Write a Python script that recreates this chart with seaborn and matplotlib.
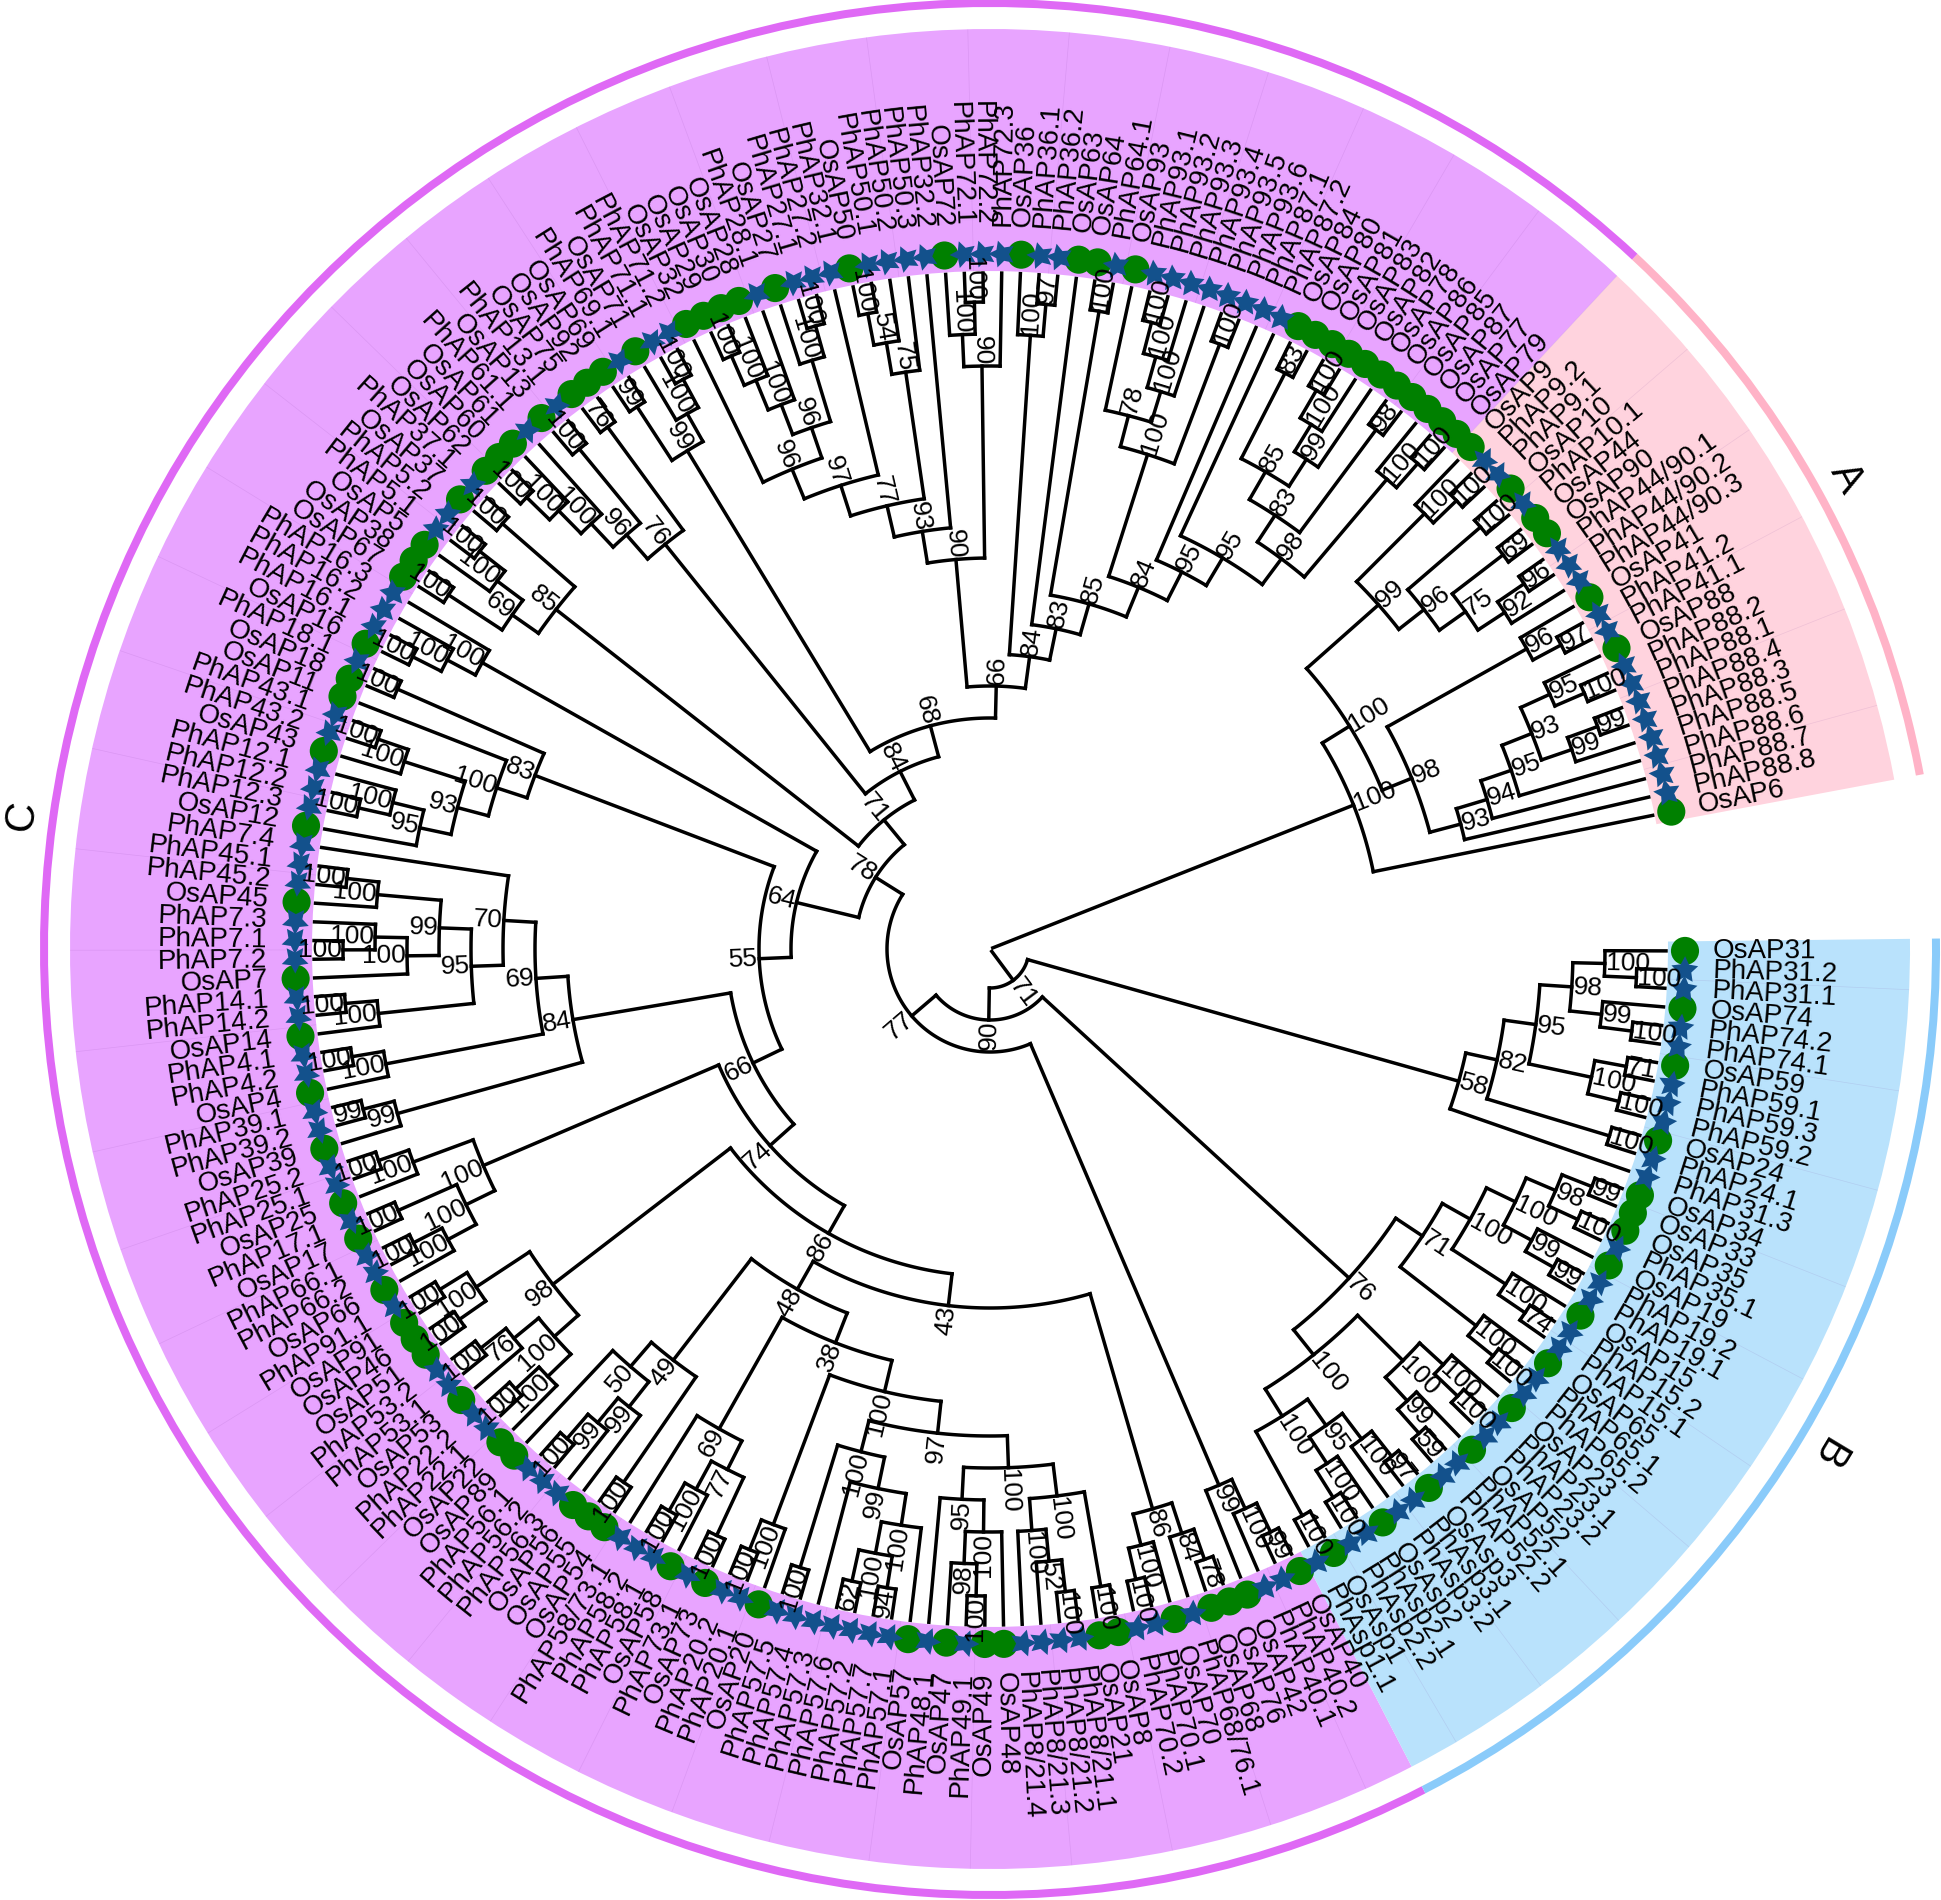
import numpy as np
import pandas as pd
import seaborn as sns
import matplotlib
matplotlib.use("Agg")
import matplotlib.pyplot as plt
from matplotlib.collections import LineCollection
from matplotlib.patches import Wedge

# ------------------------------- data -------------------------------
tips_A = ["OsAP6", "PhAP88.8", "PhAP88.7", "PhAP88.6", "PhAP88.5", "PhAP88.3", "PhAP88.4", "PhAP88.1",
          "PhAP88.2", "OsAP88", "PhAP41.1", "PhAP41.2", "OsAP41", "PhAP44/90.3", "PhAP44/90.2",
          "PhAP44/90.1", "OsAP90", "OsAP44", "PhAP10.1", "OsAP10", "PhAP9.1", "PhAP9.2", "OsAP9"]
tips_C = ["OsAP79", "OsAP77", "OsAP87", "OsAP85", "OsAP86", "OsAP78", "OsAP82", "OsAP83", "OsAP81", "OsAP80",
          "OsAP84", "PhAP87.2", "PhAP87.1", "PhAP93.6", "PhAP93.5", "PhAP93.4", "PhAP93.3", "PhAP93.2",
          "PhAP93.1", "OsAP93", "PhAP64.1", "OsAP64", "OsAP63", "PhAP36.2", "PhAP36.1", "OsAP36", "PhAP72.3",
          "PhAP72.2", "PhAP72.1", "OsAP72", "PhAP32.2", "PhAP50.3", "PhAP50.2", "PhAP50.1", "OsAP50",
          "PhAP32.1", "PhAP27.2", "PhAP27.1", "OsAP27", "PhAP28.1", "OsAP28", "OsAP30", "OsAP29", "OsAP32",
          "PhAP71.2", "PhAP71.1", "OsAP71", "PhAP69.1", "OsAP69", "OsAP92", "OsAP75", "PhAP13.1", "OsAP13",
          "PhAP61.1", "OsAP61", "OsAP60", "OsAP62", "PhAP37.1", "OsAP37", "PhAP5.2", "PhAP5.1", "OsAP5",
          "OsAP38", "OsAP67", "PhAP16.3", "PhAP16.2", "PhAP16.1", "OsAP16", "PhAP18.1", "OsAP18", "OsAP11",
          "PhAP43.1", "PhAP43.2", "OsAP43", "PhAP12.1", "PhAP12.2", "PhAP12.3", "OsAP12", "PhAP7.4",
          "PhAP45.1", "PhAP45.2", "OsAP45", "PhAP7.3", "PhAP7.1", "PhAP7.2", "OsAP7", "PhAP14.1", "PhAP14.2",
          "OsAP14", "PhAP4.1", "PhAP4.2", "OsAP4", "PhAP39.1", "PhAP39.2", "OsAP39", "PhAP25.2", "PhAP25.1",
          "OsAP25", "PhAP17.1", "OsAP17", "PhAP66.1", "PhAP66.2", "OsAP66", "PhAP91.1", "OsAP91", "OsAP46",
          "OsAP51", "PhAP53.2", "PhAP53.1", "OsAP53", "PhAP22.2", "PhAP22.1", "OsAP22", "OsAP89", "PhAP56.1",
          "PhAP56.2", "PhAP56.3", "OsAP56", "OsAP55", "OsAP54", "PhAP58/73.1", "PhAP58.2", "PhAP58.1",
          "OsAP58", "PhAP73.1", "OsAP73", "PhAP20.2", "PhAP20.1", "OsAP20", "PhAP57.5", "PhAP57.4",
          "PhAP57.3", "PhAP57.6", "PhAP57.2", "PhAP57.7", "PhAP57.1", "OsAP57", "PhAP48.1", "OsAP47",
          "PhAP49.1", "OsAP49", "OsAP48", "PhAP8/21.4", "PhAP8/21.3", "PhAP8/21.2", "PhAP8/21.1", "OsAP21",
          "OsAP8", "PhAP70.2", "PhAP70.1", "OsAP70", "PhAP68/76.1", "OsAP68", "OsAP76", "OsAP42", "PhAP40.1",
          "PhAP40.2", "OsAP40"]
tips_B = ["PhAsp1.1", "OsAsp1", "PhAsp2.2", "PhAsp2.1", "OsAsp2", "PhAsp3.2", "PhAsp3.1", "OsAsp3", "PhAP52.2",
          "PhAP52.1", "OsAP52", "PhAP23.2", "PhAP23.1", "OsAP23", "PhAP65.2", "PhAP65.1", "OsAP65", "PhAP15.1",
          "PhAP15.2", "OsAP15", "PhAP19.1", "PhAP19.2", "OsAP19", "PhAP35.1", "OsAP35", "OsAP33", "OsAP34",
          "PhAP31.3", "PhAP24.1", "OsAP24", "PhAP59.2", "PhAP59.3", "PhAP59.1", "OsAP59", "PhAP74.1",
          "PhAP74.2", "OsAP74", "PhAP31.1", "PhAP31.2", "OsAP31"]
clade_names = ["A", "C", "B"]

# topology with bootstrap supports: '*' is the next tip, counter-clockwise
t_a = ("(*,(((*,(*,(*,((*,(*,*)99)99,((*,*)100,*)95)93)95)94)93,((*,*)97,*)96)98,"
       "((((*,(*,*)96)92,(*,*)69)75,(*,*)100)96,((*,*)100,*)100)99)100)100")
t_98 = "(((*,*)100,*)100,((*,*)98,((*,(*,(*,*)100)100)99,(*,*)83)85)83)98"
t_base = "((*,*)100,((*,(*,(*,*)100)100)100,*)78)100"
t_84b = f"((((({t_98},*)95,*)95,{t_base})84,(*,*)100)85,*)83"
t_84b = f"({t_84b},((*,*)97,*)100)84"
t_top90 = "(*,((*,*)100,*)100)90"
t_75 = "(*,(*,(*,*)100)54)75"
t_96 = "((((*,*)100,*)100,(*,(*,(*,*)100)100)100)96,*)96"
t_90 = f"({t_top90},(*,({t_75},(*,{t_96})97)77)93)90"
t_99n = "(((*,*)100,*)100,(*,*)99)99"
t_n76 = "((*,*)76,((*,*)100,(*,(*,(*,*)100)100)100)96)76"
t_n85 = "((*,*)100,(((*,*)100,*)100,(*,*)100)69)85"
t_71 = f"(((({t_84b},{t_90})66,{t_99n})68,{t_n76})84,{t_n85})71"
t_100n3 = "(*,(*,(*,*)100)100)100"
t_83n = "((*,*)100,(*,(((*,*)100,*)100,((*,(*,*)100)100,*)95)93)100)83"
t_84n = ("(((*,((((*,*)100,*)100,((*,(*,*)100)100,*)100)99,((*,*)100,*)100)95)70,"
         "((*,*)100,*)100)69,((*,*)99,*)99)84")
t_l100 = "(((*,*)100,*)100,((*,*)100,((*,*)100,*)100)100)100"
t_98n = "(((*,*)100,(*,*)100)100,(((*,*)100,*)76,((*,*)100,*)100)100)98"
t_49 = "((*,(((*,*)100,*)99,*)99)50,(*,*)100)49"
t_c69 = "(*,(((*,*)100,*)100,(*,*)100)77)69"
t_57 = "((*,*)100,(*,(((*,*)62,(*,*)94)100,*)100)99)100"
t_95n = "(*,((*,(*,*)100)98,*)100)95"
t_21 = "((*,(*,(*,*)100)52)100,(*,*)100)100"
t_38 = f"({t_c69},(((*,*)100,*)100,({t_57},({t_95n},{t_21})100)97)100)38"
t_86c = "(((*,*)100,*)100,(*,(*,*)78)84)86"
t_74 = f"({t_l100},({t_98n},(({t_49},{t_38})48,{t_86c})43)86)74"
t_64 = f"({t_100n3},({t_83n},({t_84n},{t_74})66)55)64"
t_99c = "(*,(*,(*,*)99)100)99"
t_77 = f"(({t_71},{t_64})78,{t_99c})77"
t_100L = "((*,*)100,(((*,*)100,*)100,(*,(*,*)97)100)95)100"
t_100M = "(((*,*)59,*)99,((*,*)100,*)100)100"
t_b71 = "(((*,*)100,*)100,(((*,*)74,*)100,(((*,*)99,*)99,((*,*)100,(*,*)99)98)100)100)71"
t_76 = f"(({t_100L},{t_100M})100,{t_b71})76"
t_58 = "(*,((*,*)100,(((*,*)100,(*,*)71)100,(((*,*)100,*)99,((*,*)100,*)100)98)95)82)58"
topology = f"({t_a},(({t_77},{t_76})90,{t_58})71)"

# ------------------------------- scale -------------------------------
W, H, DPI = 1941, 1900, 100
CX, CY = 990, H - 949
R0, STEP = 679, 32
R_TIP_END, R_MARK, R_TEXT = 676, 695, 723
R_FILL_IN, R_FILL_OUT, R_RING_IN, R_RING_OUT = 678, 920, 942, 950
TH0, TH1 = 11.4, 359.84
C_FILL = {"A": "#FFD3DE", "C": "#E8A4FF", "B": "#B9E2FC"}
C_RING = {"A": "#FFB3C7", "C": "#DF69F5", "B": "#8ACBFA"}

tips = tips_A + tips_C + tips_B
dth = (TH1 - TH0) / (len(tips) - 1)
tip_theta = TH0 + dth * np.arange(len(tips))


def pol(r, th):
    a = np.deg2rad(th)
    return CX + r * np.cos(a), CY + r * np.sin(a)


def parse(s):
    pos = 0
    count = [0]

    def node():
        nonlocal pos
        if s[pos] == "*":
            pos += 1
            i = count[0]
            count[0] += 1
            return {"tip": i, "h": 0, "th": tip_theta[i], "kids": [], "sup": None}
        pos += 1
        kids = [node()]
        while s[pos] == ",":
            pos += 1
            kids.append(node())
        pos += 1
        j = pos
        while j < len(s) and s[j].isdigit():
            j += 1
        sup = s[pos:j]
        pos = j
        return {"tip": None, "h": max(k["h"] for k in kids) + 1,
                "th": (kids[0]["th"] + kids[-1]["th"]) / 2, "kids": kids, "sup": sup}

    n = node()
    assert count[0] == len(tips), count[0]
    return n


root = parse(topology)
segs, sup_rows = [], []


def rad(n):
    return R_TIP_END if n["tip"] is not None else R0 - STEP * n["h"]


def walk(n, is_root=False):
    r = 3 if is_root else rad(n)
    if n["kids"]:
        if not is_root:
            ths = np.linspace(n["kids"][0]["th"], n["kids"][-1]["th"],
                              max(3, int(abs(n["kids"][-1]["th"] - n["kids"][0]["th"]) * 1.5)))
            x, y = pol(r, ths)
            segs.append(np.column_stack([x, y]))
        for k in n["kids"]:
            x, y = pol(np.array([r, rad(k)]), k["th"])
            segs.append(np.column_stack([x, y]))
            walk(k)
        if n["sup"]:
            sup_rows.append((n["sup"], r, n["th"]))


walk(root, True)

# ------------------------------- draw -------------------------------
sns.set_theme(style="white")
plt.rcParams["font.family"] = ["Liberation Sans", "DejaVu Sans"]
fig = plt.figure(figsize=(W / DPI, H / DPI), dpi=DPI)
ax = fig.add_axes([0, 0, 1, 1])
ax.set_xlim(0, W)
ax.set_ylim(0, H)
ax.axis("off")

spans = {}
start = TH0 - dth / 2
for name, lst in zip(clade_names, [tips_A, tips_C, tips_B]):
    end = start + dth * len(lst)
    spans[name] = (start, end)
    ax.add_patch(Wedge((CX, CY), R_FILL_OUT, start, end, width=R_FILL_OUT - R_FILL_IN,
                       fc=C_FILL[name], ec="none", zorder=1))
    ax.add_patch(Wedge((CX, CY), R_RING_OUT, start, end, width=R_RING_OUT - R_RING_IN,
                       fc=C_RING[name], ec="none", zorder=1))
    start = end

# faint radial seams inside the colour bands
seam = []
for th in tip_theta[2::4]:
    x, y = pol(np.array([R_FILL_IN, R_FILL_OUT]), th + dth / 2)
    seam.append(np.column_stack([x, y]))
ax.add_collection(LineCollection(seam, colors="#7a3a9a", linewidths=0.5, alpha=0.12, zorder=1.5))

ax.add_collection(LineCollection(segs, colors="black", linewidths=2.5, capstyle="projecting",
                                 joinstyle="miter", zorder=2))

mx, my = pol(R_MARK, tip_theta)
df = pd.DataFrame({"x": mx, "y": my, "label": tips, "th": tip_theta,
                   "species": [t[:2] for t in tips]})
df = df.sort_values("species", kind="stable")
markers = {row.label: ("o" if row.species == "Os" else (5, 1, row.th))
           for row in df.itertuples()}
sns.scatterplot(data=df, x="x", y="y", hue="species", style="label", markers=markers,
                palette={"Os": "#008000", "Ph": "#13518C"}, s=410, linewidth=0,
                legend=False, ax=ax, zorder=3)
ax.set_xlim(0, W)
ax.set_ylim(0, H)
ax.axis("off")


def flip(th):
    th = th % 360
    if 90 < th < 270:
        return th - 180, "right"
    return (th if th <= 90 else th - 360), "left"


for t, th in zip(tips, tip_theta):
    x, y = pol(R_TEXT, th)
    rot, ha = flip(th)
    ax.text(x, y, t, rotation=rot, rotation_mode="anchor", ha=ha, va="center",
            fontsize=20, color="black", zorder=4)

for s, r, th in sup_rows:
    x, y = pol(r + 1, th)
    rot, ha = flip(th)
    ax.text(x, y, s, rotation=rot, rotation_mode="anchor", ha=ha, va="center",
            fontsize=19, color="black", zorder=5)

for name in clade_names:
    mid = sum(spans[name]) / 2
    x, y = pol(977, mid)
    ax.text(x, y, name, rotation=mid - 90, rotation_mode="anchor", ha="center", va="center",
            fontsize=30, color="black", zorder=5)

fig.savefig("out.png", dpi=DPI, facecolor="white")
